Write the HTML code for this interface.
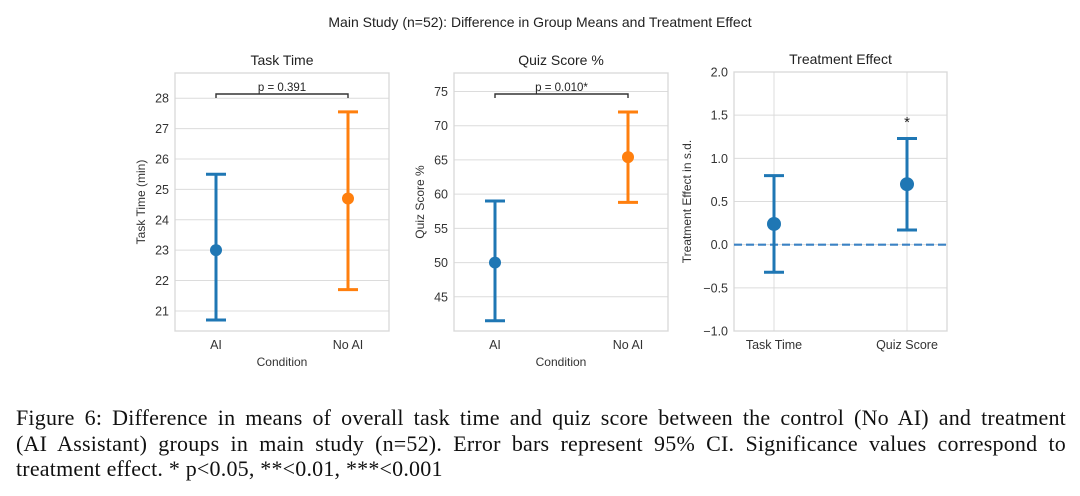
<!DOCTYPE html>
<html><head><meta charset="utf-8"><style>
body{margin:0;background:#fff;width:1080px;height:496px;overflow:hidden;position:relative}
svg{position:absolute;left:0;top:0}
.cap{position:absolute;left:16px;width:1050px;font-family:"Liberation Serif",serif;font-size:22px;letter-spacing:0.2px;color:#111;white-space:nowrap}
.j{text-align:justify;text-align-last:justify}
</style></head><body>
<svg id="chart" width="1080" height="400" font-family="Liberation Sans, sans-serif"></svg>
<div class="cap j" style="top:405px">Figure 6: Difference in means of overall task time and quiz score between the control (No AI) and treatment</div>
<div class="cap j" style="top:431px">(AI Assistant) groups in main study (n=52). Error bars represent 95% CI. Significance values correspond to</div>
<div class="cap" style="top:456px">treatment effect. * p&lt;0.05, **&lt;0.01, ***&lt;0.001</div>
<script>
const conditions=["AI","No AI"];
const timeMeans=[23.0,24.7];
const timeLow=[20.7,21.7];
const timeHigh=[25.5,27.55];
const timeTicks=[21,22,23,24,25,26,27,28];
const quizMeans=[50.0,65.4];
const quizLow=[41.5,58.8];
const quizHigh=[59.0,72.0];
const quizTicks=[45,50,55,60,65,70,75];
const effectCats=["Task Time","Quiz Score"];
const effectMeans=[0.24,0.70];
const effectLow=[-0.32,0.17];
const effectHigh=[0.80,1.23];
const effectTicks=[-1.0,-0.5,0.0,0.5,1.0,1.5,2.0];
const effectStars=["","*"];
const pLabels=["p = 0.391","p = 0.010*"];

const svg=document.getElementById('chart');
const NS='http://www.w3.org/2000/svg';
function mk(tag,attrs,parent){const e=document.createElementNS(NS,tag);for(const k in attrs)e.setAttribute(k,attrs[k]);(parent||svg).appendChild(e);return e;}
function txt(s,attrs,parent){const e=mk('text',attrs,parent);e.textContent=s;return e;}

const t=txt("Main Study (n=52): Difference in Group Means and Treatment Effect",{x:540,y:27,'text-anchor':'middle','font-size':14,fill:'#222'});



const BLUE='#1f77b4',ORANGE='#ff7f0e';
function panel(o){
  const g=mk('g',{});
  
  
  const y=v=>o.y1-(v-o.ymin)/(o.ymax-o.ymin)*(o.y1-o.y0);
  const x=i=>o.xs[i];
  o.ticks.forEach(v=>{
    const gl=mk('line',{x1:o.x0,x2:o.x1,y1:y(v),y2:y(v),stroke:'#dcdcdc','stroke-width':1},g);
    
    
    const tl=txt(o.fmt(v),{x:o.x0-6,y:y(v)+4.5,'text-anchor':'end','font-size':12.5,fill:'#333'},g);
    
    
  });
  if(o.vgrid) o.cats.forEach((c,i)=>{mk('line',{x1:x(i),x2:x(i),y1:o.y0,y2:o.y1,stroke:'#dcdcdc','stroke-width':1},g);});
  const fr=mk('rect',{x:o.x0,y:o.y0,width:o.x1-o.x0,height:o.y1-o.y0,fill:'none',stroke:'#d8d8d8','stroke-width':1.3},g);
  
  
  if(o.zero){const z=mk('line',{x1:o.x0,x2:o.x1,y1:y(0),y2:y(0),stroke:'#3b82c4','stroke-width':2.2,'stroke-dasharray':'8,4'},g);
    
    }
  o.cats.forEach((c,i)=>{
    const col=o.colors[i];
    const eg=mk('g',{},g);
    
    
    mk('line',{x1:x(i),x2:x(i),y1:y(o.low[i]),y2:y(o.high[i]),stroke:col,'stroke-width':3},eg);
    mk('line',{x1:x(i)-10,x2:x(i)+10,y1:y(o.low[i]),y2:y(o.low[i]),stroke:col,'stroke-width':3},eg);
    mk('line',{x1:x(i)-10,x2:x(i)+10,y1:y(o.high[i]),y2:y(o.high[i]),stroke:col,'stroke-width':3},eg);
    const p=mk('circle',{cx:x(i),cy:y(o.means[i]),r:o.r,fill:col},g);
    
    
    const xl=txt(c,{x:x(i),y:o.y1+18,'text-anchor':'middle','font-size':12.5,fill:'#333'},g);
    
    
    if(o.stars&&o.stars[i]){const s=txt(o.stars[i],{x:x(i),y:y(Math.max(...o.high)+0.25)+10,'text-anchor':'middle','font-size':15,fill:'#222'},g);
      
      }
  });
  if(o.p){
    const ty=o.y0+21, by=ty+4;
    const b=mk('path',{d:`M${x(0)},${by}V${ty}H${x(1)}V${by}`,fill:'none',stroke:'#333','stroke-width':1.4},g);
    
    
    const pl=txt(o.p,{x:(x(0)+x(1))/2,y:ty-3,'text-anchor':'middle','font-size':11.5,fill:'#222'},g);
    
    
  }
  const tt=txt(o.title,{x:(o.x0+o.x1)/2,y:o.y0-8,'text-anchor':'middle','font-size':14,fill:'#222'},g);
  
  
  const cy=(o.y0+o.y1)/2;
  const yl=txt(o.ylabel,{x:o.ylx,y:cy,'text-anchor':'middle','font-size':12,fill:'#333',transform:`rotate(-90 ${o.ylx} ${cy})`},g);
  
  
  if(o.xlabel){const xl=txt(o.xlabel,{x:(o.x0+o.x1)/2,y:o.y1+35,'text-anchor':'middle','font-size':12,fill:'#333'},g);
    
    }
}
panel({name:'task-time-panel',title:'Task Time',ylabel:'Task Time (min)',xlabel:'Condition',x0:175,x1:389,y0:73,y1:331,ymin:20.34,ymax:28.83,xs:[216,348],cats:conditions,means:timeMeans,low:timeLow,high:timeHigh,ticks:timeTicks,fmt:v=>String(v),colors:[BLUE,ORANGE],r:6,p:pLabels[0],ylx:145});
panel({name:'quiz-score-panel',title:'Quiz Score %',ylabel:'Quiz Score %',xlabel:'Condition',x0:454,x1:668,y0:73,y1:331,ymin:40,ymax:77.7,xs:[495,628],cats:conditions,means:quizMeans,low:quizLow,high:quizHigh,ticks:quizTicks,fmt:v=>String(v),colors:[BLUE,ORANGE],r:6,p:pLabels[1],ylx:424});
panel({name:'treatment-effect-panel',title:'Treatment Effect',ylabel:'Treatment Effect in s.d.',x0:734,x1:947,y0:72,y1:331,ymin:-1,ymax:2,xs:[774,907],cats:effectCats,means:effectMeans,low:effectLow,high:effectHigh,ticks:effectTicks,fmt:v=>v.toFixed(1).replace('-','\u2212'),colors:[BLUE,BLUE],r:7,zero:true,vgrid:true,stars:effectStars,ylx:691});
</script>
</body></html>
